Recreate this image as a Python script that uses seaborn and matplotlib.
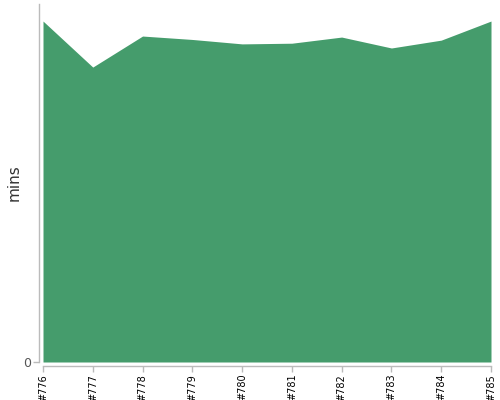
import numpy as np
import pandas as pd
import matplotlib
matplotlib.use("Agg")
import matplotlib.pyplot as plt
import seaborn as sns

builds = ['#776', '#777', '#778', '#779', '#780', '#781', '#782', '#783', '#784', '#785']
mins = [100.0, 86.5, 95.6, 94.6, 93.3, 93.5, 95.3, 92.1, 94.4, 100.0]

df = pd.DataFrame({'build': builds, 'pos': np.arange(len(builds)), 'mins': mins})

sns.set_style("white")
green = '#459c6c'

fig = plt.figure(figsize=(5, 4), dpi=100)
ax = fig.add_axes([0.086, 0.095, 0.896, 0.895])

ax.fill_between(df['pos'], 0, df['mins'], color=green, linewidth=0, zorder=1)

ax.set_xlim(0, len(builds) - 1)
ax.set_ylim(0, max(mins) * 1.05)
ax.set_xticks(df['pos'])
ax.set_xticklabels(builds)
ax.set_yticks([0])
ax.set_yticklabels(['0'])
ax.set_xlabel('')
ax.set_ylabel('mins', fontsize=11, color='#333333', labelpad=1)

for side in ['top', 'right']:
    ax.spines[side].set_visible(False)
for side in ['left', 'bottom']:
    ax.spines[side].set_position(('outward', 3))
    ax.spines[side].set_color('#bbbbbb')
    ax.spines[side].set_linewidth(1)
ax.tick_params(axis='both', which='both', length=4, color='#bbbbbb', width=1,
               bottom=True, left=True, pad=1.5)
ax.tick_params(axis='x', labelrotation=90, labelsize=7, labelcolor='black')
ax.tick_params(axis='y', labelsize=9, labelcolor='#555555')

fig.savefig('out.png', dpi=100)
